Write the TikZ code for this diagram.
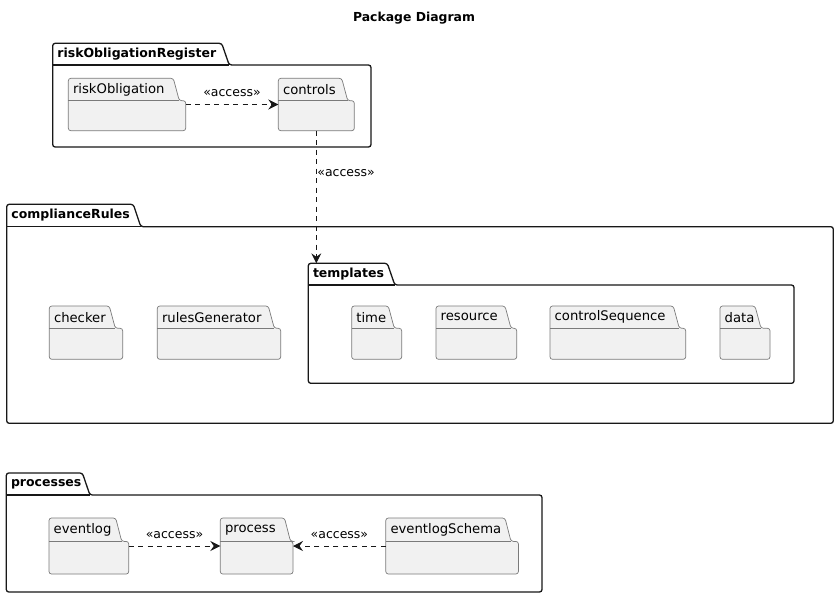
\documentclass[tikz,border=0pt]{standalone}
\usepackage{fontspec}
\setmainfont{DejaVu Sans}
\usetikzlibrary{arrows.meta}
\definecolor{pkfillc}{HTML}{F1F1F1}
\definecolor{pkline}{HTML}{7A7A7A}
\definecolor{dark}{HTML}{181818}
\tikzset{
  inpk/.style={fill=pkfillc, draw=pkline, line width=0.7pt},
  outpk/.style={fill=white, draw=dark, line width=1.3pt},
  inlab/.style={font=\fontsize{13.2}{15}\selectfont, inner sep=0pt, anchor=west, text=black},
  outlab/.style={font=\bfseries\fontsize{12.5}{15}\selectfont, inner sep=0pt, anchor=west, text=black},
  pkbox/.style={draw=none, fill=none, inner sep=0pt, outer sep=0pt, rectangle},
  dep/.style={draw=dark, line width=0.9pt, dash pattern=on 5pt off 4.5pt,
    -{Stealth[length=10pt,width=10pt,inset=3.5pt]}},
  deplab/.style={font=\fontsize{12.5}{15}\selectfont, inner sep=0pt, text=black},
  titlelab/.style={font=\bfseries\fontsize{12.4}{15}\selectfont, inner sep=0pt},
}
% #1 name, #2 x1, #3 ytop, #4 x2, #5 ybot, #6 tab right, #7 tab bottom, #8 label
\newcommand\pkgcore[8]{%
  \path[pkcur, rounded corners=2.5pt] (#2,#5) -- (#2,#3) -- (#6,#3) -- ({#6+\pksl},#7) -- (#4,#7) -- (#4,#5) -- cycle;
  \draw[pkcur] (#2,#7) -- ({#6+\pksl},#7);
  \node[pkbox, minimum width={(#4-#2)*1pt}, minimum height={(#5-#3)*1pt}] (#1) at ({(#2+#4)/2},{(#3+#5)/2}) {};
  \node[pkcurlab] (#1-label) at ({#2+4.5},{(#3+#7)/2}) {#8};
}
\newcommand\inpkg{\tikzset{pkcur/.style={inpk}, pkcurlab/.style={inlab}}\def\pksl{6}\pkgcore}
\newcommand\outpkg{\tikzset{pkcur/.style={outpk}, pkcurlab/.style={outlab}}\def\pksl{7.5}\pkgcore}

\begin{document}
\begin{tikzpicture}[x=1pt, y=-1pt]
\useasboundingbox (0,0) rectangle (840,598);
\node[titlelab] (title) at (414,18.3) {Package Diagram};

% riskObligationRegister
\outpkg{riskObligationRegister}{52.7}{43.3}{371}{147}{221.7}{65}{riskObligationRegister}
\inpkg{riskObligation}{68.3}{78.3}{185.7}{130.7}{173.3}{100.7}{riskObligation}
\inpkg{controls}{278.3}{78.3}{354.3}{130.7}{341.7}{100.7}{controls}

% complianceRules
\outpkg{complianceRules}{6.7}{204.3}{833.3}{423.3}{133.3}{226.7}{complianceRules}
\inpkg{checker}{49.3}{306}{122.7}{359.3}{109.3}{328.3}{checker}
\inpkg{rulesGenerator}{157.3}{306}{280.7}{359.3}{268.3}{328.3}{rulesGenerator}
\outpkg{templates}{308.3}{263.3}{794}{383.3}{387.3}{285}{templates}
\inpkg{time}{351.7}{306}{401.7}{359.3}{388.3}{328.3}{time}
\inpkg{resource}{436}{306}{516.7}{359.3}{505}{328.3}{resource}
\inpkg{controlSequence}{550}{306}{685.7}{359.3}{673.3}{328.3}{controlSequence}
\inpkg{data}{720}{306}{770}{359.3}{755}{328.3}{data}

% processes
\outpkg{processes}{6.3}{473}{542}{592}{82.4}{495}{processes}
\inpkg{eventlog}{49}{518}{128.7}{574}{115.7}{541.4}{eventlog}
\inpkg{process}{220.3}{518}{293}{574}{284.5}{541.4}{process}
\inpkg{eventlogSchema}{385.8}{518}{518.4}{574}{505}{541.4}{eventlogSchema}

% dependencies
\draw[dep] (riskObligation) -- node[deplab, midway, yshift=11pt] (l1) {«access»} (controls);
\draw[dep] (controls) -- node[deplab, pos=0.32, anchor=west, xshift=0.6pt] (l2) {«access»} (controls |- templates.north);
\draw[dep] (eventlog) -- node[deplab, midway, yshift=11pt] (l3) {«access»} (process);
\draw[dep] (eventlogSchema) -- node[deplab, midway, yshift=11pt] (l4) {«access»} (process);
\end{tikzpicture}
\end{document}
